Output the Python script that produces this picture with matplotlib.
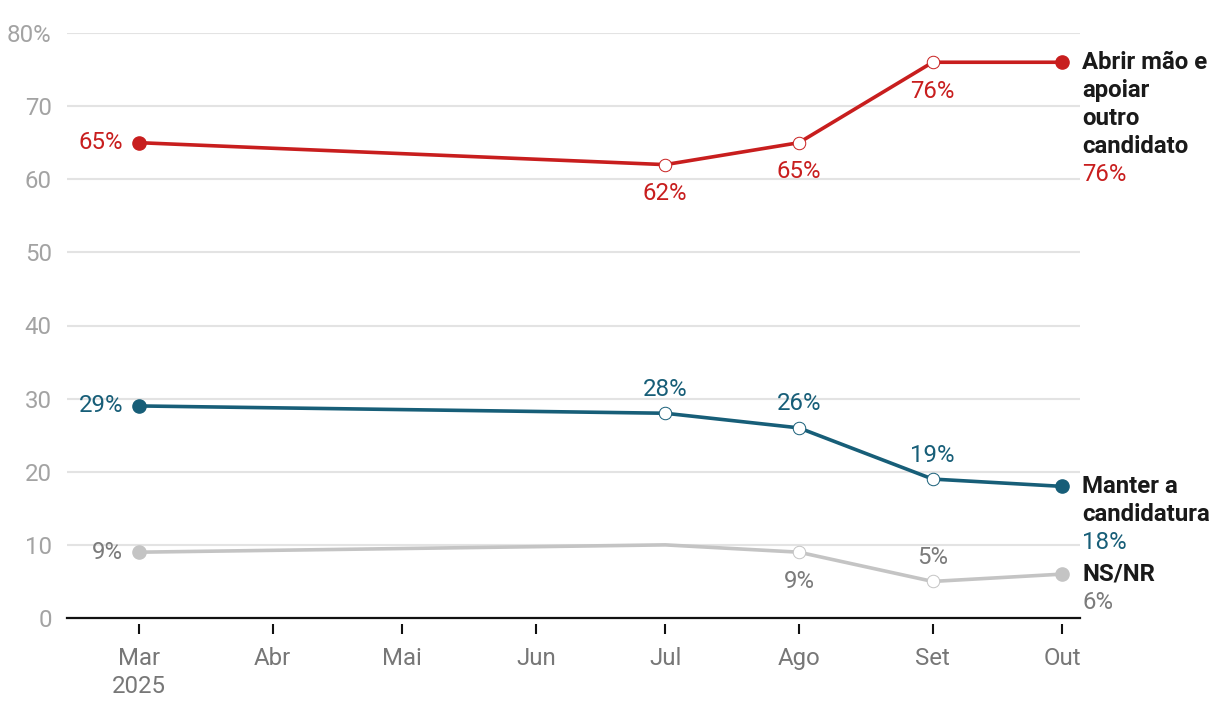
import matplotlib
matplotlib.use("Agg")
import matplotlib.pyplot as plt
import matplotlib.dates as mdates
from datetime import datetime

plt.rcParams['font.family'] = ['Roboto', 'DejaVu Sans']

# data
dates = [datetime(2025, 3, 1), datetime(2025, 7, 1), datetime(2025, 8, 1),
         datetime(2025, 9, 1), datetime(2025, 10, 1)]
abrir = [65, 62, 65, 76, 76]
manter = [29, 28, 26, 19, 18]
nsnr = [9, 10, 9, 5, 6]

month_ticks = [datetime(2025, m, 1) for m in range(3, 11)]
month_labels = ["Mar\n2025", "Abr", "Mai", "Jun", "Jul", "Ago", "Set", "Out"]
y_ticks = [0, 10, 20, 30, 40, 50, 60, 70, 80]
y_labels = ["0", "10", "20", "30", "40", "50", "60", "70", "80%"]

RED = "#c81e1e"
BLUE = "#175e78"
GRAY_LINE = "#c4c4c4"
GRAY_TEXT = "#7b7b7b"

series = [
    (abrir, RED, RED, ["Abrir mão e", "apoiar", "outro", "candidato"],
     ["left", "below", "below", "below", None]),
    (manter, BLUE, BLUE, ["Manter a", "candidatura"],
     ["left", "above", "above", "above", None]),
    (nsnr, GRAY_LINE, GRAY_TEXT, ["NS/NR"],
     ["left", None, "below", "above", None]),
]

fig = plt.figure(figsize=(12.2, 7.12), dpi=100)
ax = fig.add_axes([67 / 1220, 94 / 712, 1013 / 1220, 585 / 712])

ax.set_xlim(mdates.date2num(datetime(2025, 2, 12, 7)), mdates.date2num(datetime(2025, 10, 5, 4)))
ax.set_ylim(0, 80)

for y in y_ticks[1:]:
    ax.axhline(y, color="#e3e3e3", lw=1.5, zorder=0)
ax.axhline(0, color="#111111", lw=1.6, zorder=1, clip_on=False)

FS = 17.3

for vals, lc, tc, name, pos in series:
    ax.plot(dates, vals, color=lc, lw=2.6, zorder=3, solid_capstyle="round")
    # first and last point filled
    ax.plot([dates[0], dates[-1]], [vals[0], vals[-1]], "o", color=lc, ms=9.5, zorder=5, clip_on=False)
    for i in range(1, len(vals) - 1):
        if pos[i] is None:
            continue
        ax.plot(dates[i], vals[i], "o", mfc="white", mec=lc, mew=0.7, ms=9, zorder=4)
    for i, p in enumerate(pos):
        if p is None:
            continue
        lab = f"{vals[i]}%"
        if p == "left":
            ax.annotate(lab, (dates[i], vals[i]), xytext=(-16, 0), textcoords="offset pixels",
                        ha="right", va="center", color=tc, fontsize=FS)
        elif p == "below":
            ax.annotate(lab, (dates[i], vals[i]), xytext=(0, -29), textcoords="offset pixels",
                        ha="center", va="center", color=tc, fontsize=FS)
        else:
            ax.annotate(lab, (dates[i], vals[i]), xytext=(0, 24), textcoords="offset pixels",
                        ha="center", va="center", color=tc, fontsize=FS)
    # right side labels
    for j, line in enumerate(name):
        ax.annotate(line, (dates[-1], vals[-1]), xytext=(20, -28 * j), textcoords="offset pixels",
                    ha="left", va="center", color="#1a1a1a", fontsize=FS, fontweight="bold",
                    annotation_clip=False)
    ax.annotate(f"{vals[-1]}%", (dates[-1], vals[-1]), xytext=(20, -28 * len(name)),
                textcoords="offset pixels", ha="left", va="center", color=tc, fontsize=FS,
                annotation_clip=False)

for s in ["top", "right", "left"]:
    ax.spines[s].set_visible(False)
ax.spines["bottom"].set_position(("outward", 4))
ax.spines["bottom"].set_visible(False)

ax.set_xticks(month_ticks)
ax.set_xticklabels(month_labels, color="#777777", fontsize=FS, linespacing=1.25)
ax.tick_params(axis="x", length=7, width=1.5, color="#111111", pad=10)

ax.set_yticks(y_ticks)
ax.set_yticklabels(y_labels, color="#a3a3a3", fontsize=FS)
ax.tick_params(axis="y", length=0, pad=11)

fig.savefig("out.png", dpi=100)
